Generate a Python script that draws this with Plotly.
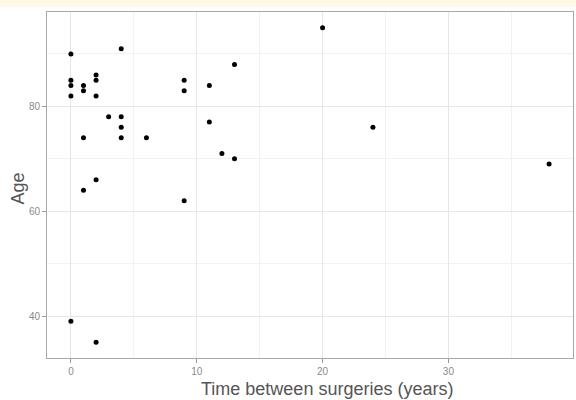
import plotly.graph_objects as go

years = [0, 0, 0, 0, 0,
         1, 1, 1, 1,
         2, 2, 2, 2, 2,
         3,
         4, 4, 4, 4,
         6,
         9, 9, 9,
         11, 11,
         12,
         13, 13,
         20, 24, 38]
ages = [90, 85, 84, 82, 39,
        84, 83, 74, 64,
        86, 85, 82, 66, 35,
        78,
        91, 78, 76, 74,
        74,
        85, 83, 62,
        84, 77,
        71,
        88, 70,
        95, 76, 69]

x_ticks = [0, 10, 20, 30]
y_ticks = [40, 60, 80]
y_tick_labels = ["40", "60", "80"]
x_title = "Time between surgeries (years)"
y_title = "Age"

fig = go.Figure()
fig.add_trace(go.Scatter(x=years, y=ages, mode="markers",
                         marker=dict(color="black", size=5), showlegend=False))

fig.update_layout(
    width=576, height=400,
    margin=dict(l=47, r=3, t=12, b=42),
    paper_bgcolor="white", plot_bgcolor="white",
    font=dict(family="Liberation Sans, Arial, sans-serif", color="#555555"),
    xaxis=dict(range=[-1.9, 39.9], tickvals=x_ticks, ticks="outside", ticklen=4,
               tickcolor="#999999", tickfont=dict(size=10, color="#8a8a8a"),
               showgrid=True, gridcolor="#e6e6e6", gridwidth=1,
               minor=dict(dtick=5, showgrid=True, gridcolor="#f2f2f2", gridwidth=1),
               showline=True, linecolor="#a8a8a8", linewidth=1, mirror=True,
               zeroline=False, automargin=False),
    yaxis=dict(range=[32, 98], tickvals=y_ticks, ticktext=y_tick_labels, ticks="outside", ticklen=4,
               tickcolor="#999999", tickfont=dict(size=10, color="#8a8a8a"),
               showgrid=True, gridcolor="#e6e6e6", gridwidth=1,
               minor=dict(dtick=10, tick0=30, showgrid=True, gridcolor="#f2f2f2", gridwidth=1),
               showline=True, linecolor="#a8a8a8", linewidth=1, mirror=True,
               zeroline=False, automargin=False),
    annotations=[
        dict(text=x_title, xref="paper", yref="paper", x=0.532, y=-0.0885,
             xanchor="center", yanchor="middle", showarrow=False,
             font=dict(size=18, color="#555555")),
        dict(text=y_title, xref="paper", yref="paper", x=-0.0551, y=0.49,
             xanchor="center", yanchor="middle", showarrow=False, textangle=-90,
             font=dict(size=18, color="#555555")),
    ],
    shapes=[dict(type="rect", xref="paper", yref="paper", x0=-0.2, x1=1.1,
                 y0=1.0 + 5/346, y1=1.1, fillcolor="#fef9e5", line=dict(width=0), layer="below")],
)

fig.write_html("out.html", config={"displayModeBar": False},
               post_script="document.body.style.margin='0';document.body.style.padding='0';")
